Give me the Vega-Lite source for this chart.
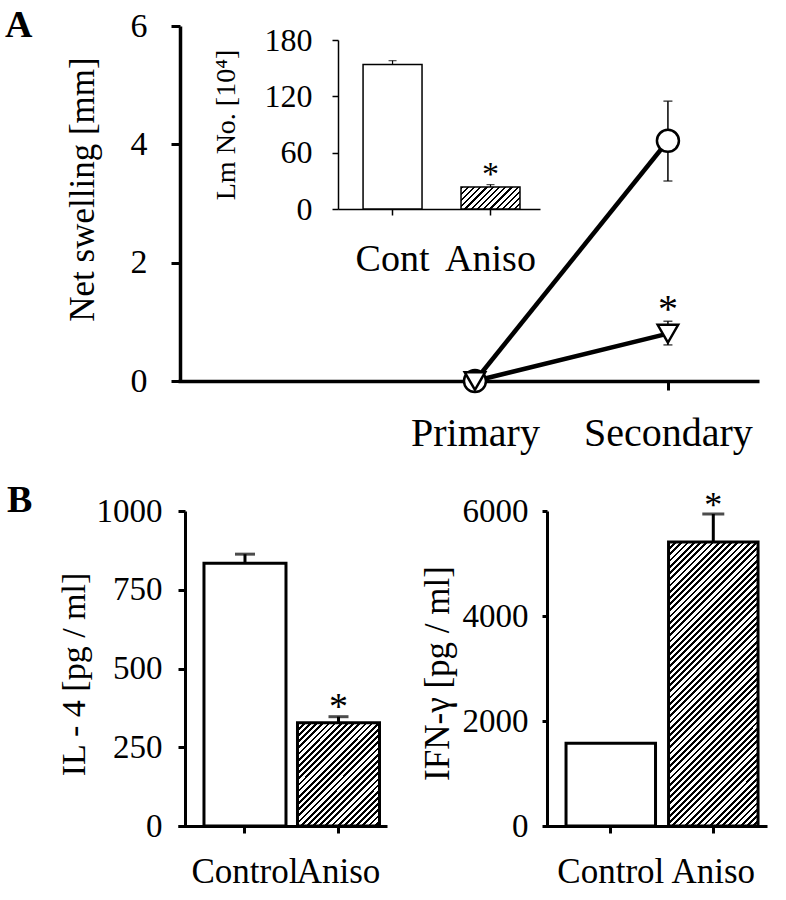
{
"$schema": "https://vega.github.io/schema/vega-lite/v6.json",
"background": "white",
"padding": {"left": 5, "top": 7, "right": 5, "bottom": 5},
"bounds": "flush",
"spacing": 130,
"config": {
  "view": {"stroke": null},
  "font": "Liberation Serif",
  "axis": {"grid": false, "labelFont": "Liberation Serif", "titleFont": "Liberation Serif", "labelColor": "black", "titleColor": "black", "domainColor": "black", "tickColor": "black", "titleFontWeight": "normal", "labelOverlap": false, "labelFlush": false, "labelBound": false},
  "axisX": {"labelFont": "Liberation Serif", "titleFont": "Liberation Serif"},
  "axisY": {"labelFont": "Liberation Serif", "titleFont": "Liberation Serif"},
  "title": {"font": "Liberation Serif", "color": "black"},
  "text": {"font": "Liberation Serif"}
},
"datasets": {
  "swell": [
    {"group": "Cont", "challenge": 1, "swell": 0, "lo": 0, "hi": 0, "sig": false},
    {"group": "Cont", "challenge": 2, "swell": 4.06, "lo": 3.38, "hi": 4.73, "sig": false},
    {"group": "Aniso", "challenge": 1, "swell": 0, "lo": 0, "hi": 0, "sig": false},
    {"group": "Aniso", "challenge": 2, "swell": 0.8, "lo": 0.61, "hi": 1.01, "sig": true}
  ],
  "lm": [
    {"group": "Cont", "count": 154, "hi": 158, "sig": false},
    {"group": "Aniso", "count": 23.4, "hi": 26, "sig": true}
  ],
  "il4": [
    {"group": "Control", "value": 834, "hi": 863, "sig": false},
    {"group": "Aniso", "value": 328, "hi": 347, "sig": true}
  ],
  "ifn": [
    {"group": "Control", "value": 1576, "hi": 1576, "sig": false},
    {"group": "Aniso", "value": 5411, "hi": 5943, "sig": true}
  ]
},
"vconcat": [
  {
    "width": 581, "height": 355,
    "title": {"text": "A", "anchor": "start", "frame": "group", "orient": "top", "font": "Liberation Serif", "fontSize": 38, "fontWeight": "bold", "baseline": "alphabetic", "offset": 0, "dx": -173, "dy": 66},
    "resolve": {"scale": {"x": "independent", "y": "independent"}, "axis": {"x": "independent", "y": "independent"}},
    "layer": [
      {
        "data": {"name": "swell"},
        "encoding": {
          "x": {"field": "challenge", "type": "quantitative", "scale": {"domain": [-0.539, 2.472], "nice": false, "zero": false},
                "axis": {"orient": "bottom", "values": [1, 2], "labelExpr": "datum.value == 1 ? 'Primary' : 'Secondary'", "title": null, "labelFont": "Liberation Serif", "labelFontSize": 40, "tickSize": 9, "tickWidth": 3, "domainWidth": 3.5, "labelPadding": 23}},
          "y": {"field": "swell", "type": "quantitative", "scale": {"domain": [0, 6], "nice": false},
                "axis": {"orient": "left", "offset": -2, "values": [0, 2, 4, 6], "format": "d", "title": "Net swelling [mm]", "labelFont": "Liberation Serif", "titleFont": "Liberation Serif", "titleFontSize": 35, "titlePadding": 30, "titleY": 163, "labelFontSize": 34, "tickSize": 9, "labelPadding": 24, "tickWidth": 3, "domainWidth": 3.5}}
        },
        "layer": [
          {"mark": {"type": "line", "color": "black", "strokeWidth": 4.5}, "encoding": {"detail": {"field": "group"}}},
          {"transform": [{"filter": "datum.challenge == 2"}], "mark": {"type": "rule", "color": "black", "strokeWidth": 1.5}, "encoding": {"y": {"field": "lo", "type": "quantitative"}, "y2": {"field": "hi"}}},
          {"transform": [{"filter": "datum.challenge == 2"}], "mark": {"type": "tick", "orient": "horizontal", "color": "black", "size": 9, "thickness": 1.5}, "encoding": {"y": {"field": "hi", "type": "quantitative"}}},
          {"transform": [{"filter": "datum.challenge == 2"}], "mark": {"type": "tick", "orient": "horizontal", "color": "black", "size": 9, "thickness": 1.5}, "encoding": {"y": {"field": "lo", "type": "quantitative"}}},
          {"transform": [{"filter": "datum.group == 'Cont'"}], "mark": {"type": "point", "shape": "circle", "size": 484, "filled": true, "fill": "white", "stroke": "black", "strokeWidth": 2.5, "opacity": 1}},
          {"transform": [{"filter": "datum.group == 'Aniso'"}], "mark": {"type": "point", "shape": "triangle-down", "size": 420, "filled": true, "fill": "white", "stroke": "black", "strokeWidth": 2.5, "opacity": 1}},
          {"transform": [{"filter": "datum.sig && datum.challenge == 2"}], "mark": {"type": "text", "text": "*", "fontSize": 40, "font": "Liberation Serif", "baseline": "alphabetic", "dy": 1, "color": "black"}, "encoding": {"y": {"field": "hi", "type": "quantitative"}}}
        ]
      },
      {
        "data": {"name": "lm"},
        "encoding": {
          "x": {"field": "group", "type": "nominal", "sort": ["Cont", "Aniso"], "scale": {"range": [160, 362], "paddingInner": 0.398, "paddingOuter": 0.23, "align": 0.556},
                "axis": {"orient": "bottom", "offset": -172, "title": null, "labelAngle": 0, "labelFont": "Liberation Serif", "labelFontSize": 38, "tickSize": 6, "tickWidth": 1.5, "domainWidth": 1.5, "labelPadding": 25}},
          "y": {"field": "count", "type": "quantitative", "scale": {"domain": [0, 180], "range": [183, 14], "nice": false},
                "axis": {"orient": "left", "offset": -160, "values": [0, 60, 120, 180], "format": "d", "title": "Lm No. [10⁴]", "labelFont": "Liberation Serif", "titleFont": "Liberation Serif", "titleFontSize": 28, "titlePadding": 24, "labelFontSize": 32, "tickSize": 6, "tickWidth": 1.5, "domainWidth": 1.5, "labelPadding": 20}}
        },
        "layer": [
          {"transform": [{"filter": "datum.group == 'Cont'"}], "mark": {"type": "bar", "fill": "white", "stroke": "black", "strokeWidth": 1.5}},
          {"transform": [{"filter": "datum.group == 'Aniso'"}], "mark": {"type": "bar", "stroke": "black", "strokeWidth": 1.5,
            "fill": {"gradient": "linear", "x1": 0, "y1": 0, "x2": 1.205, "y2": 0.449, "stops": [
              {"offset":0,"color":"#000"},{"offset":0.0269,"color":"#000"},{"offset":0.0269,"color":"#fff"},{"offset":0.0769,"color":"#fff"},
              {"offset":0.0769,"color":"#000"},{"offset":0.1038,"color":"#000"},{"offset":0.1038,"color":"#fff"},{"offset":0.1538,"color":"#fff"},
              {"offset":0.1538,"color":"#000"},{"offset":0.1808,"color":"#000"},{"offset":0.1808,"color":"#fff"},{"offset":0.2308,"color":"#fff"},
              {"offset":0.2308,"color":"#000"},{"offset":0.2577,"color":"#000"},{"offset":0.2577,"color":"#fff"},{"offset":0.3077,"color":"#fff"},
              {"offset":0.3077,"color":"#000"},{"offset":0.3346,"color":"#000"},{"offset":0.3346,"color":"#fff"},{"offset":0.3846,"color":"#fff"},
              {"offset":0.3846,"color":"#000"},{"offset":0.4115,"color":"#000"},{"offset":0.4115,"color":"#fff"},{"offset":0.4615,"color":"#fff"},
              {"offset":0.4615,"color":"#000"},{"offset":0.4885,"color":"#000"},{"offset":0.4885,"color":"#fff"},{"offset":0.5385,"color":"#fff"},
              {"offset":0.5385,"color":"#000"},{"offset":0.5654,"color":"#000"},{"offset":0.5654,"color":"#fff"},{"offset":0.6154,"color":"#fff"},
              {"offset":0.6154,"color":"#000"},{"offset":0.6423,"color":"#000"},{"offset":0.6423,"color":"#fff"},{"offset":0.6923,"color":"#fff"},
              {"offset":0.6923,"color":"#000"},{"offset":0.7192,"color":"#000"},{"offset":0.7192,"color":"#fff"},{"offset":0.7692,"color":"#fff"},
              {"offset":0.7692,"color":"#000"},{"offset":0.7962,"color":"#000"},{"offset":0.7962,"color":"#fff"},{"offset":0.8462,"color":"#fff"},
              {"offset":0.8462,"color":"#000"},{"offset":0.8731,"color":"#000"},{"offset":0.8731,"color":"#fff"},{"offset":0.9231,"color":"#fff"},
              {"offset":0.9231,"color":"#000"},{"offset":0.95,"color":"#000"},{"offset":0.95,"color":"#fff"},{"offset":1,"color":"#fff"}
            ]}}},
          {"mark": {"type": "rule", "color": "black", "strokeWidth": 1.2}, "encoding": {"y2": {"field": "hi"}}},
          {"mark": {"type": "tick", "color": "black", "size": 8, "thickness": 1.2}, "encoding": {"y": {"field": "hi", "type": "quantitative"}}},
          {"transform": [{"filter": "datum.sig"}], "mark": {"type": "text", "text": "*", "fontSize": 34, "font": "Liberation Serif", "baseline": "alphabetic", "dy": 0, "color": "black"}, "encoding": {"y": {"field": "hi", "type": "quantitative"}}}
        ]
      }
    ]
  },
  {
    "bounds": "flush",
    "spacing": 156,
    "hconcat": [
      {
        "width": 209, "height": 315,
        "title": {"text": "B", "anchor": "start", "frame": "group", "orient": "top", "font": "Liberation Serif", "fontSize": 38, "fontWeight": "bold", "baseline": "alphabetic", "offset": 0, "dx": -171, "dy": 55},
        "data": {"name": "il4"},
        "encoding": {
          "x": {"field": "group", "type": "nominal", "sort": ["Control", "Aniso"], "scale": {"paddingInner": 0.123, "paddingOuter": 0.179, "align": 0.776},
                "axis": {"title": null, "labelAngle": 0, "labelFont": "Liberation Serif", "labelFontSize": 35, "tickSize": 7, "tickWidth": 3, "domainWidth": 3, "labelPadding": 21}},
          "y": {"field": "value", "type": "quantitative", "scale": {"domain": [0, 1000], "nice": false},
                "axis": {"offset": -7, "values": [0, 250, 500, 750, 1000], "format": "d", "title": "IL - 4 [pg / ml]", "labelFont": "Liberation Serif", "titleFont": "Liberation Serif", "titleFontSize": 34, "titlePadding": 5, "titleY": 163, "labelFontSize": 33, "tickSize": 7, "tickWidth": 3, "domainWidth": 3, "labelPadding": 16}}
        },
        "layer": [
          {"transform": [{"filter": "datum.group == 'Control'"}], "mark": {"type": "bar", "fill": "white", "stroke": "black", "strokeWidth": 3}},
          {"transform": [{"filter": "datum.group == 'Aniso'"}], "mark": {"type": "bar", "stroke": "black", "strokeWidth": 3,
            "fill": {"gradient": "linear", "x1": 0, "y1": 0, "x2": 0.8752, "y2": 1.0993, "stops": [
              {"offset":0,"color":"#000"},{"offset":0.015,"color":"#000"},{"offset":0.015,"color":"#fff"},{"offset":0.0333,"color":"#fff"},
              {"offset":0.0333,"color":"#000"},{"offset":0.0483,"color":"#000"},{"offset":0.0483,"color":"#fff"},{"offset":0.0667,"color":"#fff"},
              {"offset":0.0667,"color":"#000"},{"offset":0.0817,"color":"#000"},{"offset":0.0817,"color":"#fff"},{"offset":0.1,"color":"#fff"},
              {"offset":0.1,"color":"#000"},{"offset":0.115,"color":"#000"},{"offset":0.115,"color":"#fff"},{"offset":0.1333,"color":"#fff"},
              {"offset":0.1333,"color":"#000"},{"offset":0.1483,"color":"#000"},{"offset":0.1483,"color":"#fff"},{"offset":0.1667,"color":"#fff"},
              {"offset":0.1667,"color":"#000"},{"offset":0.1817,"color":"#000"},{"offset":0.1817,"color":"#fff"},{"offset":0.2,"color":"#fff"},
              {"offset":0.2,"color":"#000"},{"offset":0.215,"color":"#000"},{"offset":0.215,"color":"#fff"},{"offset":0.2333,"color":"#fff"},
              {"offset":0.2333,"color":"#000"},{"offset":0.2483,"color":"#000"},{"offset":0.2483,"color":"#fff"},{"offset":0.2667,"color":"#fff"},
              {"offset":0.2667,"color":"#000"},{"offset":0.2817,"color":"#000"},{"offset":0.2817,"color":"#fff"},{"offset":0.3,"color":"#fff"},
              {"offset":0.3,"color":"#000"},{"offset":0.315,"color":"#000"},{"offset":0.315,"color":"#fff"},{"offset":0.3333,"color":"#fff"},
              {"offset":0.3333,"color":"#000"},{"offset":0.3483,"color":"#000"},{"offset":0.3483,"color":"#fff"},{"offset":0.3667,"color":"#fff"},
              {"offset":0.3667,"color":"#000"},{"offset":0.3817,"color":"#000"},{"offset":0.3817,"color":"#fff"},{"offset":0.4,"color":"#fff"},
              {"offset":0.4,"color":"#000"},{"offset":0.415,"color":"#000"},{"offset":0.415,"color":"#fff"},{"offset":0.4333,"color":"#fff"},
              {"offset":0.4333,"color":"#000"},{"offset":0.4483,"color":"#000"},{"offset":0.4483,"color":"#fff"},{"offset":0.4667,"color":"#fff"},
              {"offset":0.4667,"color":"#000"},{"offset":0.4817,"color":"#000"},{"offset":0.4817,"color":"#fff"},{"offset":0.5,"color":"#fff"},
              {"offset":0.5,"color":"#000"},{"offset":0.515,"color":"#000"},{"offset":0.515,"color":"#fff"},{"offset":0.5333,"color":"#fff"},
              {"offset":0.5333,"color":"#000"},{"offset":0.5483,"color":"#000"},{"offset":0.5483,"color":"#fff"},{"offset":0.5667,"color":"#fff"},
              {"offset":0.5667,"color":"#000"},{"offset":0.5817,"color":"#000"},{"offset":0.5817,"color":"#fff"},{"offset":0.6,"color":"#fff"},
              {"offset":0.6,"color":"#000"},{"offset":0.615,"color":"#000"},{"offset":0.615,"color":"#fff"},{"offset":0.6333,"color":"#fff"},
              {"offset":0.6333,"color":"#000"},{"offset":0.6483,"color":"#000"},{"offset":0.6483,"color":"#fff"},{"offset":0.6667,"color":"#fff"},
              {"offset":0.6667,"color":"#000"},{"offset":0.6817,"color":"#000"},{"offset":0.6817,"color":"#fff"},{"offset":0.7,"color":"#fff"},
              {"offset":0.7,"color":"#000"},{"offset":0.715,"color":"#000"},{"offset":0.715,"color":"#fff"},{"offset":0.7333,"color":"#fff"},
              {"offset":0.7333,"color":"#000"},{"offset":0.7483,"color":"#000"},{"offset":0.7483,"color":"#fff"},{"offset":0.7667,"color":"#fff"},
              {"offset":0.7667,"color":"#000"},{"offset":0.7817,"color":"#000"},{"offset":0.7817,"color":"#fff"},{"offset":0.8,"color":"#fff"},
              {"offset":0.8,"color":"#000"},{"offset":0.815,"color":"#000"},{"offset":0.815,"color":"#fff"},{"offset":0.8333,"color":"#fff"},
              {"offset":0.8333,"color":"#000"},{"offset":0.8483,"color":"#000"},{"offset":0.8483,"color":"#fff"},{"offset":0.8667,"color":"#fff"},
              {"offset":0.8667,"color":"#000"},{"offset":0.8817,"color":"#000"},{"offset":0.8817,"color":"#fff"},{"offset":0.9,"color":"#fff"},
              {"offset":0.9,"color":"#000"},{"offset":0.915,"color":"#000"},{"offset":0.915,"color":"#fff"},{"offset":0.9333,"color":"#fff"},
              {"offset":0.9333,"color":"#000"},{"offset":0.9483,"color":"#000"},{"offset":0.9483,"color":"#fff"},{"offset":0.9667,"color":"#fff"},
              {"offset":0.9667,"color":"#000"},{"offset":0.9817,"color":"#000"},{"offset":0.9817,"color":"#fff"},{"offset":1,"color":"#fff"}
            ]}}},
          {"mark": {"type": "rule", "color": "black", "strokeWidth": 3}, "encoding": {"y2": {"field": "hi"}}},
          {"mark": {"type": "tick", "color": "black", "size": 20, "thickness": 3}, "encoding": {"y": {"field": "hi", "type": "quantitative"}}},
          {"transform": [{"filter": "datum.sig"}], "mark": {"type": "text", "text": "*", "fontSize": 38, "font": "Liberation Serif", "baseline": "alphabetic", "dy": 2, "color": "black"}, "encoding": {"y": {"field": "hi", "type": "quantitative"}}}
        ]
      },
      {
        "width": 224, "height": 315,
        "data": {"name": "ifn"},
        "encoding": {
          "x": {"field": "group", "type": "nominal", "sort": ["Control", "Aniso"], "scale": {"paddingInner": 0.127, "paddingOuter": 0.156, "align": 0.72},
                "axis": {"title": null, "labelAngle": 0, "labelFont": "Liberation Serif", "labelFontSize": 35, "tickSize": 7, "tickWidth": 3, "domainWidth": 3, "labelPadding": 21}},
          "y": {"field": "value", "type": "quantitative", "scale": {"domain": [0, 6000], "nice": false},
                "axis": {"offset": -4, "values": [0, 2000, 4000, 6000], "format": "d", "title": "IFN-γ [pg / ml]", "labelFont": "Liberation Serif", "titleFont": "Liberation Serif", "titleFontSize": 35, "titlePadding": 7, "titleY": 162, "labelFontSize": 33, "tickSize": 5, "tickWidth": 3, "domainWidth": 3, "labelPadding": 14}}
        },
        "layer": [
          {"transform": [{"filter": "datum.group == 'Control'"}], "mark": {"type": "bar", "fill": "white", "stroke": "black", "strokeWidth": 3}},
          {"transform": [{"filter": "datum.group == 'Aniso'"}], "mark": {"type": "bar", "stroke": "black", "strokeWidth": 3,
            "fill": {"gradient": "linear", "x1": 0, "y1": 0, "x2": 0.377, "y2": 1.1963, "stops": [
              {"offset":0,"color":"#000"},{"offset":0.0075,"color":"#000"},{"offset":0.0075,"color":"#fff"},{"offset":0.0167,"color":"#fff"},
              {"offset":0.0167,"color":"#000"},{"offset":0.0242,"color":"#000"},{"offset":0.0242,"color":"#fff"},{"offset":0.0333,"color":"#fff"},
              {"offset":0.0333,"color":"#000"},{"offset":0.0408,"color":"#000"},{"offset":0.0408,"color":"#fff"},{"offset":0.05,"color":"#fff"},
              {"offset":0.05,"color":"#000"},{"offset":0.0575,"color":"#000"},{"offset":0.0575,"color":"#fff"},{"offset":0.0667,"color":"#fff"},
              {"offset":0.0667,"color":"#000"},{"offset":0.0742,"color":"#000"},{"offset":0.0742,"color":"#fff"},{"offset":0.0833,"color":"#fff"},
              {"offset":0.0833,"color":"#000"},{"offset":0.0908,"color":"#000"},{"offset":0.0908,"color":"#fff"},{"offset":0.1,"color":"#fff"},
              {"offset":0.1,"color":"#000"},{"offset":0.1075,"color":"#000"},{"offset":0.1075,"color":"#fff"},{"offset":0.1167,"color":"#fff"},
              {"offset":0.1167,"color":"#000"},{"offset":0.1242,"color":"#000"},{"offset":0.1242,"color":"#fff"},{"offset":0.1333,"color":"#fff"},
              {"offset":0.1333,"color":"#000"},{"offset":0.1408,"color":"#000"},{"offset":0.1408,"color":"#fff"},{"offset":0.15,"color":"#fff"},
              {"offset":0.15,"color":"#000"},{"offset":0.1575,"color":"#000"},{"offset":0.1575,"color":"#fff"},{"offset":0.1667,"color":"#fff"},
              {"offset":0.1667,"color":"#000"},{"offset":0.1742,"color":"#000"},{"offset":0.1742,"color":"#fff"},{"offset":0.1833,"color":"#fff"},
              {"offset":0.1833,"color":"#000"},{"offset":0.1908,"color":"#000"},{"offset":0.1908,"color":"#fff"},{"offset":0.2,"color":"#fff"},
              {"offset":0.2,"color":"#000"},{"offset":0.2075,"color":"#000"},{"offset":0.2075,"color":"#fff"},{"offset":0.2167,"color":"#fff"},
              {"offset":0.2167,"color":"#000"},{"offset":0.2242,"color":"#000"},{"offset":0.2242,"color":"#fff"},{"offset":0.2333,"color":"#fff"},
              {"offset":0.2333,"color":"#000"},{"offset":0.2408,"color":"#000"},{"offset":0.2408,"color":"#fff"},{"offset":0.25,"color":"#fff"},
              {"offset":0.25,"color":"#000"},{"offset":0.2575,"color":"#000"},{"offset":0.2575,"color":"#fff"},{"offset":0.2667,"color":"#fff"},
              {"offset":0.2667,"color":"#000"},{"offset":0.2742,"color":"#000"},{"offset":0.2742,"color":"#fff"},{"offset":0.2833,"color":"#fff"},
              {"offset":0.2833,"color":"#000"},{"offset":0.2908,"color":"#000"},{"offset":0.2908,"color":"#fff"},{"offset":0.3,"color":"#fff"},
              {"offset":0.3,"color":"#000"},{"offset":0.3075,"color":"#000"},{"offset":0.3075,"color":"#fff"},{"offset":0.3167,"color":"#fff"},
              {"offset":0.3167,"color":"#000"},{"offset":0.3242,"color":"#000"},{"offset":0.3242,"color":"#fff"},{"offset":0.3333,"color":"#fff"},
              {"offset":0.3333,"color":"#000"},{"offset":0.3408,"color":"#000"},{"offset":0.3408,"color":"#fff"},{"offset":0.35,"color":"#fff"},
              {"offset":0.35,"color":"#000"},{"offset":0.3575,"color":"#000"},{"offset":0.3575,"color":"#fff"},{"offset":0.3667,"color":"#fff"},
              {"offset":0.3667,"color":"#000"},{"offset":0.3742,"color":"#000"},{"offset":0.3742,"color":"#fff"},{"offset":0.3833,"color":"#fff"},
              {"offset":0.3833,"color":"#000"},{"offset":0.3908,"color":"#000"},{"offset":0.3908,"color":"#fff"},{"offset":0.4,"color":"#fff"},
              {"offset":0.4,"color":"#000"},{"offset":0.4075,"color":"#000"},{"offset":0.4075,"color":"#fff"},{"offset":0.4167,"color":"#fff"},
              {"offset":0.4167,"color":"#000"},{"offset":0.4242,"color":"#000"},{"offset":0.4242,"color":"#fff"},{"offset":0.4333,"color":"#fff"},
              {"offset":0.4333,"color":"#000"},{"offset":0.4408,"color":"#000"},{"offset":0.4408,"color":"#fff"},{"offset":0.45,"color":"#fff"},
              {"offset":0.45,"color":"#000"},{"offset":0.4575,"color":"#000"},{"offset":0.4575,"color":"#fff"},{"offset":0.4667,"color":"#fff"},
              {"offset":0.4667,"color":"#000"},{"offset":0.4742,"color":"#000"},{"offset":0.4742,"color":"#fff"},{"offset":0.4833,"color":"#fff"},
              {"offset":0.4833,"color":"#000"},{"offset":0.4908,"color":"#000"},{"offset":0.4908,"color":"#fff"},{"offset":0.5,"color":"#fff"},
              {"offset":0.5,"color":"#000"},{"offset":0.5075,"color":"#000"},{"offset":0.5075,"color":"#fff"},{"offset":0.5167,"color":"#fff"},
              {"offset":0.5167,"color":"#000"},{"offset":0.5242,"color":"#000"},{"offset":0.5242,"color":"#fff"},{"offset":0.5333,"color":"#fff"},
              {"offset":0.5333,"color":"#000"},{"offset":0.5408,"color":"#000"},{"offset":0.5408,"color":"#fff"},{"offset":0.55,"color":"#fff"},
              {"offset":0.55,"color":"#000"},{"offset":0.5575,"color":"#000"},{"offset":0.5575,"color":"#fff"},{"offset":0.5667,"color":"#fff"},
              {"offset":0.5667,"color":"#000"},{"offset":0.5742,"color":"#000"},{"offset":0.5742,"color":"#fff"},{"offset":0.5833,"color":"#fff"},
              {"offset":0.5833,"color":"#000"},{"offset":0.5908,"color":"#000"},{"offset":0.5908,"color":"#fff"},{"offset":0.6,"color":"#fff"},
              {"offset":0.6,"color":"#000"},{"offset":0.6075,"color":"#000"},{"offset":0.6075,"color":"#fff"},{"offset":0.6167,"color":"#fff"},
              {"offset":0.6167,"color":"#000"},{"offset":0.6242,"color":"#000"},{"offset":0.6242,"color":"#fff"},{"offset":0.6333,"color":"#fff"},
              {"offset":0.6333,"color":"#000"},{"offset":0.6408,"color":"#000"},{"offset":0.6408,"color":"#fff"},{"offset":0.65,"color":"#fff"},
              {"offset":0.65,"color":"#000"},{"offset":0.6575,"color":"#000"},{"offset":0.6575,"color":"#fff"},{"offset":0.6667,"color":"#fff"},
              {"offset":0.6667,"color":"#000"},{"offset":0.6742,"color":"#000"},{"offset":0.6742,"color":"#fff"},{"offset":0.6833,"color":"#fff"},
              {"offset":0.6833,"color":"#000"},{"offset":0.6908,"color":"#000"},{"offset":0.6908,"color":"#fff"},{"offset":0.7,"color":"#fff"},
              {"offset":0.7,"color":"#000"},{"offset":0.7075,"color":"#000"},{"offset":0.7075,"color":"#fff"},{"offset":0.7167,"color":"#fff"},
              {"offset":0.7167,"color":"#000"},{"offset":0.7242,"color":"#000"},{"offset":0.7242,"color":"#fff"},{"offset":0.7333,"color":"#fff"},
              {"offset":0.7333,"color":"#000"},{"offset":0.7408,"color":"#000"},{"offset":0.7408,"color":"#fff"},{"offset":0.75,"color":"#fff"},
              {"offset":0.75,"color":"#000"},{"offset":0.7575,"color":"#000"},{"offset":0.7575,"color":"#fff"},{"offset":0.7667,"color":"#fff"},
              {"offset":0.7667,"color":"#000"},{"offset":0.7742,"color":"#000"},{"offset":0.7742,"color":"#fff"},{"offset":0.7833,"color":"#fff"},
              {"offset":0.7833,"color":"#000"},{"offset":0.7908,"color":"#000"},{"offset":0.7908,"color":"#fff"},{"offset":0.8,"color":"#fff"},
              {"offset":0.8,"color":"#000"},{"offset":0.8075,"color":"#000"},{"offset":0.8075,"color":"#fff"},{"offset":0.8167,"color":"#fff"},
              {"offset":0.8167,"color":"#000"},{"offset":0.8242,"color":"#000"},{"offset":0.8242,"color":"#fff"},{"offset":0.8333,"color":"#fff"},
              {"offset":0.8333,"color":"#000"},{"offset":0.8408,"color":"#000"},{"offset":0.8408,"color":"#fff"},{"offset":0.85,"color":"#fff"},
              {"offset":0.85,"color":"#000"},{"offset":0.8575,"color":"#000"},{"offset":0.8575,"color":"#fff"},{"offset":0.8667,"color":"#fff"},
              {"offset":0.8667,"color":"#000"},{"offset":0.8742,"color":"#000"},{"offset":0.8742,"color":"#fff"},{"offset":0.8833,"color":"#fff"},
              {"offset":0.8833,"color":"#000"},{"offset":0.8908,"color":"#000"},{"offset":0.8908,"color":"#fff"},{"offset":0.9,"color":"#fff"},
              {"offset":0.9,"color":"#000"},{"offset":0.9075,"color":"#000"},{"offset":0.9075,"color":"#fff"},{"offset":0.9167,"color":"#fff"},
              {"offset":0.9167,"color":"#000"},{"offset":0.9242,"color":"#000"},{"offset":0.9242,"color":"#fff"},{"offset":0.9333,"color":"#fff"},
              {"offset":0.9333,"color":"#000"},{"offset":0.9408,"color":"#000"},{"offset":0.9408,"color":"#fff"},{"offset":0.95,"color":"#fff"},
              {"offset":0.95,"color":"#000"},{"offset":0.9575,"color":"#000"},{"offset":0.9575,"color":"#fff"},{"offset":0.9667,"color":"#fff"},
              {"offset":0.9667,"color":"#000"},{"offset":0.9742,"color":"#000"},{"offset":0.9742,"color":"#fff"},{"offset":0.9833,"color":"#fff"},
              {"offset":0.9833,"color":"#000"},{"offset":0.9908,"color":"#000"},{"offset":0.9908,"color":"#fff"},{"offset":1,"color":"#fff"}
            ]}}},
          {"transform": [{"filter": "datum.hi > datum.value"}], "mark": {"type": "rule", "color": "black", "strokeWidth": 3}, "encoding": {"y2": {"field": "hi"}}},
          {"transform": [{"filter": "datum.hi > datum.value"}], "mark": {"type": "tick", "color": "black", "size": 22, "thickness": 3}, "encoding": {"y": {"field": "hi", "type": "quantitative"}}},
          {"transform": [{"filter": "datum.sig"}], "mark": {"type": "text", "text": "*", "fontSize": 36, "font": "Liberation Serif", "baseline": "alphabetic", "dy": 3, "color": "black"}, "encoding": {"y": {"field": "hi", "type": "quantitative"}}}
        ]
      }
    ]
  }
]
}
